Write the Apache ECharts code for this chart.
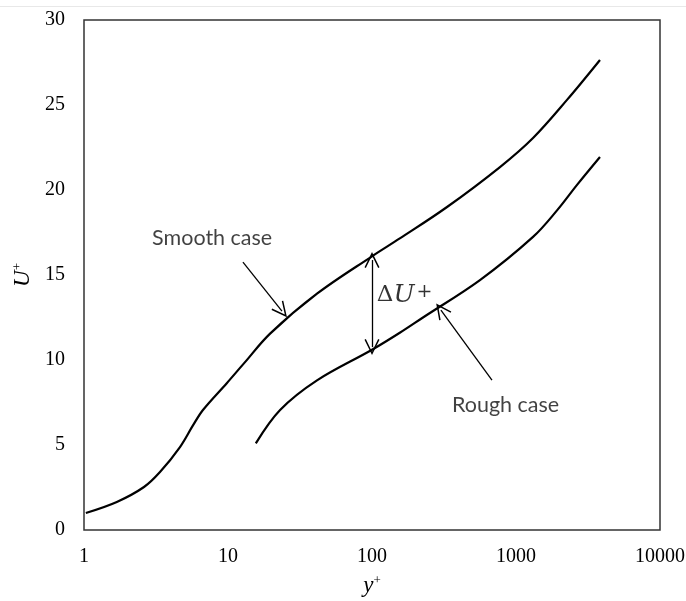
<!DOCTYPE html>
<html>
<head>
<meta charset="utf-8">
<script src="https://cdn.jsdelivr.net/npm/echarts@6/dist/echarts.min.js"></script>
<style>html,body{margin:0;padding:0;background:#fff;}#c{width:686px;height:601px;}</style>
</head>
<body>
<div id="c"></div>
<script>
// Data
var smoothX = [1.03, 1.69, 2.61, 3.37, 4.64, 5.71, 6.7, 9.84, 12.9, 19.6, 41.5, 100, 156, 332, 774, 1313, 2260, 3830];
var smoothY = [1.0, 1.65, 2.53, 3.41, 4.88, 6.15, 7.06, 8.65, 9.8, 11.55, 13.9, 16.1, 17.15, 19.0, 21.35, 23.06, 25.3, 27.65];
var roughX = [15.6, 23, 41.5, 100, 156, 226, 562, 1313, 1927, 2654, 3830];
var roughY = [5.1, 7.06, 8.8, 10.6, 11.6, 12.5, 14.7, 17.24, 18.8, 20.3, 21.94];
var yTicks = [0, 5, 10, 15, 20, 25, 30];
var xTicks = [1, 10, 100, 1000, 10000];
// annotations (data coordinates)
var smoothLabel = [2.97, 17.2, 'Smooth case'];
var roughLabel = [359, 7.35, 'Rough case'];
var deltaLabel = [108, 13.8, 'ΔU+'];
var smoothArrow = [[12.7, 15.76], [23.7, 12.88]];
var roughArrow = [[681, 8.82], [301, 12.94]];
var deltaArrow = [[100, 15.88], [100, 10.76]];

function zip(a, b) { return a.map(function (v, i) { return [v, b[i]]; }); }

var chevron = 'path://M5,0 L10,10 L9.106,10.447 L5,2.236 L0.894,10.447 L0,10 Z';
var serif = '"Liberation Serif", "Times New Roman", serif';
var sans = 'Lato, "Open Sans", sans-serif';

var chart = echarts.init(document.getElementById('c'));
chart.setOption({
  animation: false,
  backgroundColor: '#fff',
  grid: { left: 84, right: 26, top: 20, bottom: 71, outerBoundsMode: 'none', containLabel: false, show: true, borderColor: '#333', borderWidth: 1.5, backgroundColor: 'transparent' },
  graphic: [{ type: 'line', shape: { x1: 0, y1: 6.5, x2: 686, y2: 6.5 }, style: { stroke: '#e8e8e8', lineWidth: 1 }, silent: true }],
  xAxis: {
    type: 'log', logBase: 10, min: xTicks[0], max: xTicks[xTicks.length - 1],
    axisLine: { show: false }, axisTick: { show: false }, splitLine: { show: false }, minorTick: { show: false },
    axisLabel: { fontFamily: serif, fontSize: 20, color: '#000', margin: 17, formatter: function (v) { return String(v); } },
    name: '{i|y}{s|+}', nameLocation: 'middle', nameGap: 44,
    nameTextStyle: { rich: { i: { fontFamily: serif, fontStyle: 'italic', fontSize: 23, color: '#000' }, s: { fontFamily: serif, fontSize: 13, color: '#000', verticalAlign: 'top' } } }
  },
  yAxis: {
    type: 'value', min: yTicks[0], max: yTicks[yTicks.length - 1], interval: 5,
    axisLine: { show: false }, axisTick: { show: false }, splitLine: { show: false },
    axisLabel: { fontFamily: serif, fontSize: 20, color: '#000', margin: 19 },
    name: '{i|U}{s|+}', nameLocation: 'middle', nameGap: 47,
    nameTextStyle: { rich: { i: { fontFamily: serif, fontStyle: 'italic', fontSize: 23, color: '#000' }, s: { fontFamily: serif, fontSize: 13, color: '#000', verticalAlign: 'top' } } }
  },
  series: [
    {
      name: 'Smooth case', type: 'line', data: zip(smoothX, smoothY), smooth: 0.35, symbol: 'none',
      lineStyle: { color: '#000', width: 2.2 }, z: 3,
      markLine: {
        silent: true, animation: false, label: { show: false },
        lineStyle: { color: '#000', width: 1.3, type: 'solid' },
        symbol: ['none', chevron], symbolSize: [15, 16],
        data: [
          [{ coord: smoothArrow[0] }, { coord: smoothArrow[1] }],
          [{ coord: roughArrow[0] }, { coord: roughArrow[1] }],
          [{ coord: deltaArrow[0], symbol: chevron }, { coord: deltaArrow[1] }]
        ]
      }
    },
    {
      name: 'Rough case', type: 'line', data: zip(roughX, roughY), smooth: 0.35, symbol: 'none',
      lineStyle: { color: '#000', width: 2.2 }, z: 3
    },
    {
      name: 'labels', type: 'scatter', symbolSize: 0, silent: true,
      data: [smoothLabel, roughLabel],
      label: { show: true, position: 'right', distance: 0, formatter: function (p) { return p.data[2]; }, fontFamily: sans, fontSize: 21.5, color: '#111' }
    },
    {
      name: 'delta', type: 'scatter', symbolSize: 0, silent: true,
      data: [deltaLabel],
      label: { show: true, position: 'right', distance: 0, formatter: '{a|Δ}{b|U}{c|+}',
        rich: {
          a: { fontFamily: '"DejaVu Serif", serif', fontSize: 23, color: '#000' },
          b: { fontFamily: '"DejaVu Serif", serif', fontStyle: 'italic', fontSize: 25, color: '#000' },
          c: { fontFamily: '"DejaVu Serif", serif', fontSize: 19, color: '#000', verticalAlign: 'top', padding: [0, 0, 6, 2] }
        } }
    }
  ]
});
</script>
</body>
</html>
